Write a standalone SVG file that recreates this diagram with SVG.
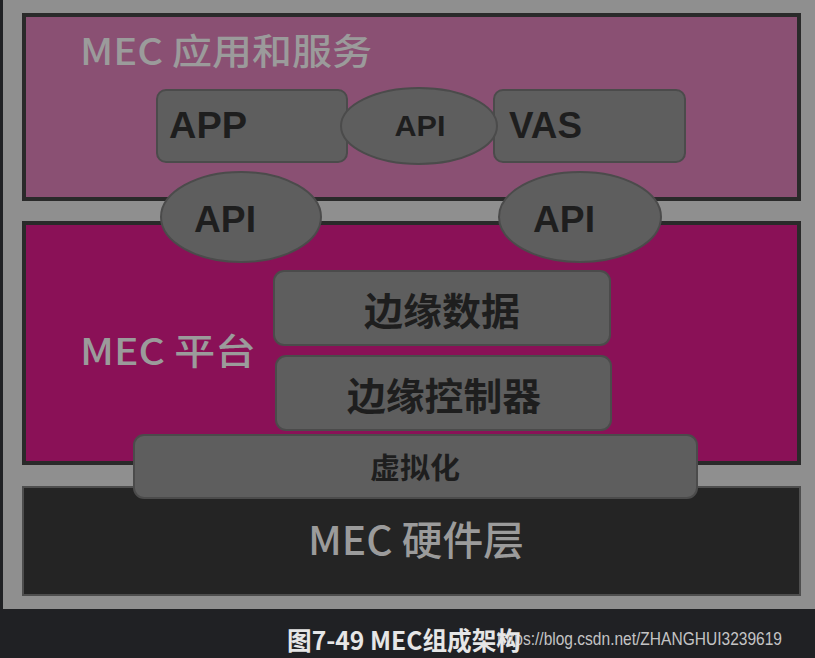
<svg xmlns="http://www.w3.org/2000/svg" width="815" height="658" viewBox="0 0 815 658">
<style>
.layer-title{font-family:"Noto Sans CJK SC","Noto Sans",sans-serif;fill:#9b9b9b;font-weight:500}
.box{fill:#5e5e5e;stroke:#4b4b4b;stroke-width:2}
.lbl{font-family:"Liberation Sans","Noto Sans CJK SC",sans-serif;font-weight:bold;fill:#1e1e1e}
.cjk{font-family:"Noto Sans CJK SC",sans-serif;font-weight:bold;fill:#1e1e1e}
</style>
<rect x="0" y="0" width="815" height="658" fill="#202124"/>
<rect x="3" y="0" width="812" height="609" fill="#8f8f8f"/>

<g id="layer-app">
<rect x="24" y="15" width="775" height="184" fill="#8a5073" stroke="#2a2a2a" stroke-width="4"/>
<text class="layer-title" x="80" y="65" font-size="36" textLength="292" lengthAdjust="spacingAndGlyphs">MEC 应用和服务</text>
</g>
<g id="layer-platform">
<rect x="24" y="223" width="775" height="240" fill="#8a1157" stroke="#2a2a2a" stroke-width="4"/>
<text class="layer-title" x="80" y="365" font-size="36" textLength="176" lengthAdjust="spacingAndGlyphs">MEC 平台</text>
</g>
<g id="layer-hardware">
<rect x="23" y="487" width="777" height="108" fill="#242424" stroke="#4e4e4e" stroke-width="2"/>
<text class="layer-title" x="308" y="555" font-size="40" textLength="216" lengthAdjust="spacingAndGlyphs">MEC 硬件层</text>
</g>

<g id="connectors"></g>

<g id="app">
<rect class="box" x="157" y="90" width="190" height="72" rx="9"/>
<text class="lbl" x="169" y="138" font-size="37" textLength="78" lengthAdjust="spacingAndGlyphs">APP</text>
</g>
<g id="vas">
<rect class="box" x="494" y="90" width="191" height="72" rx="9"/>
<text class="lbl" x="509" y="138" font-size="37" textLength="73" lengthAdjust="spacingAndGlyphs">VAS</text>
</g>
<g id="api-mid">
<ellipse class="box" cx="419" cy="126" rx="78" ry="38"/>
<text class="lbl" x="420" y="136" font-size="29" text-anchor="middle" textLength="51" lengthAdjust="spacingAndGlyphs">API</text>
</g>
<g id="api-left">
<ellipse class="box" cx="241" cy="217" rx="80" ry="45"/>
<text class="lbl" x="225" y="232" font-size="37" text-anchor="middle" textLength="62" lengthAdjust="spacingAndGlyphs">API</text>
</g>
<g id="api-right">
<ellipse class="box" cx="580" cy="217" rx="81" ry="45"/>
<text class="lbl" x="564" y="232" font-size="37" text-anchor="middle" textLength="62" lengthAdjust="spacingAndGlyphs">API</text>
</g>
<g id="edge-data">
<rect class="box" x="274" y="271" width="336" height="74" rx="10"/>
<text class="cjk" x="442" y="325" font-size="38" text-anchor="middle" textLength="156" lengthAdjust="spacingAndGlyphs">边缘数据</text>
</g>
<g id="edge-controller">
<rect class="box" x="276" y="356" width="335" height="74" rx="10"/>
<text class="cjk" x="444" y="410" font-size="38" text-anchor="middle" textLength="194" lengthAdjust="spacingAndGlyphs">边缘控制器</text>
</g>
<g id="virtualization">
<rect class="box" x="134" y="435" width="563" height="63" rx="10" fill="#585858"/>
<text class="cjk" x="415" y="479" font-size="29" text-anchor="middle" textLength="90" lengthAdjust="spacingAndGlyphs">虚拟化</text>
</g>

<g id="caption">
<text x="497" y="645" font-family="Liberation Sans,sans-serif" font-size="19" fill="#c4c4c4" textLength="285" lengthAdjust="spacingAndGlyphs">https://blog.csdn.net/ZHANGHUI3239619</text>
<text x="287" y="650" font-family="Noto Sans CJK SC,sans-serif" font-weight="bold" font-size="25" fill="#e6e6e6" textLength="234" lengthAdjust="spacingAndGlyphs">图7-49 MEC组成架构</text>
</g>
</svg>
